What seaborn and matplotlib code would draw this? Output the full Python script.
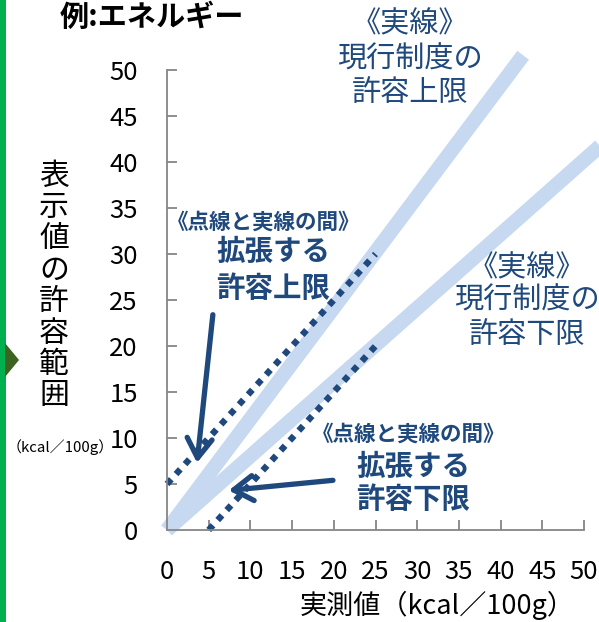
import matplotlib
matplotlib.use("Agg")
import matplotlib.pyplot as plt
import seaborn as sns
import pandas as pd
from matplotlib.patches import Rectangle, Polygon, FancyArrowPatch

# ---- data ----
upper_solid_x = [0, 42.7]
upper_solid_y = [0, 51.6]
lower_solid_x = [0, 53.0]
lower_solid_y = [0, 42.6]
upper_dot_x = [0, 25]
upper_dot_y = [5, 30]
lower_dot_x = [5, 25]
lower_dot_y = [0, 20]
arrow_upper = [(5.5, 23.4), (3.6, 7.3)]
arrow_lower = [(19.9, 5.4), (7.4, 4.3)]
x_ticks = [0, 5, 10, 15, 20, 25, 30, 35, 40, 45, 50]
y_ticks = [0, 5, 10, 15, 20, 25, 30, 35, 40, 45, 50]
title = "例:エネルギー"
ylabel_chars = list("表示値の許容範囲")
unit_label = "（kcal／100g）"
xlabel = "実測値（kcal／100g）"

sns.set_theme(style="white")
plt.rcParams["font.family"] = ["Noto Sans CJK JP", "DejaVu Sans"]

W, H = 599, 622
fig = plt.figure(figsize=(W / 100, H / 100), dpi=100)
fig.patch.set_facecolor("white")
ax = fig.add_axes([167 / W, 1 - 530 / H, (584 - 167) / W, (530 - 70) / H])
ax.set_facecolor("white")

def px(x, y):
    return x / W, 1 - y / H

light = "#C6D9F0"
dark = "#1F497D"

for xs, ys in [(upper_solid_x, upper_solid_y), (lower_solid_x, lower_solid_y)]:
    df = pd.DataFrame({"x": xs, "y": ys})
    sns.lineplot(data=df, x="x", y="y", ax=ax, color=light, linewidth=10.5,
                 solid_capstyle="butt", sort=False)
    ax.lines[-1].set_clip_on(False)

for xs, ys in [(upper_dot_x, upper_dot_y), (lower_dot_x, lower_dot_y)]:
    df = pd.DataFrame({"x": xs, "y": ys})
    sns.lineplot(data=df, x="x", y="y", ax=ax, color=dark, linewidth=4.6,
                 linestyle=(0, (1, 1.1)), sort=False)
    ax.lines[-1].set_clip_on(False)

for (start, tip) in [arrow_upper, arrow_lower]:
    arr = FancyArrowPatch(start, tip, arrowstyle="->,head_length=0.7,head_width=0.45",
                          mutation_scale=20, color=dark, linewidth=3.8,
                          shrinkA=0, shrinkB=0, clip_on=False)
    ax.add_patch(arr)

ax.set_xlim(0, 50)
ax.set_ylim(0, 50)
ax.set_xticks(x_ticks)
ax.set_yticks(y_ticks)
ax.set_xlabel("")
ax.set_ylabel("")
for s in ["top", "right"]:
    ax.spines[s].set_visible(False)
for s in ["left", "bottom"]:
    ax.spines[s].set_color("#868686")
    ax.spines[s].set_linewidth(1.3)
ax.tick_params(axis="both", direction="in", length=7, width=1.3, color="#868686",
               labelsize=18.5, labelcolor="black")
ax.tick_params(axis="y", pad=21, left=True)
ax.tick_params(axis="x", pad=21, bottom=True)

# title
fig.text(*px(60, 17), title, fontsize=21, fontweight="bold", ha="left", va="center",
         color="black")

# vertical y label
y0, step = 176, 31.4
for i, ch in enumerate(ylabel_chars):
    fig.text(*px(54, y0 + i * step), ch, fontsize=21.5, ha="center", va="center",
             color="black")
fig.text(*px(7, 447), unit_label, fontsize=10.8, ha="left", va="center", color="black")

# x label
fig.text(*px(437, 605), xlabel, fontsize=19.5, ha="center", va="center", color="black")

# annotations
def lines(cx, ys, texts, size, bold=False):
    for y, t in zip(ys, texts):
        fig.text(*px(cx, y), t, fontsize=size, ha="center", va="center", color=dark,
                 fontweight="bold" if bold else "normal")

lines(410, [24, 60, 93], ["《実線》", "現行制度の", "許容上限"], 21)
lines(527, [268, 301, 335], ["《実線》", "現行制度の", "許容下限"], 21)
lines(264, [222], ["《点線と実線の間》"], 15.5, bold=True)
lines(273, [252, 289], ["拡張する", "許容上限"], 20.5, bold=True)
lines(409, [434], ["《点線と実線の間》"], 15.5, bold=True)
lines(413, [467, 500], ["拡張する", "許容下限"], 20.5, bold=True)

# left decoration
fig.patches.append(Rectangle((0, 0), 6 / W, 1, transform=fig.transFigure,
                             facecolor="#00B050", edgecolor="none"))
fig.patches.append(Polygon([px(5, 343), px(19, 360), px(5, 377)], closed=True,
                           transform=fig.transFigure, facecolor="#3A6420",
                           edgecolor="none"))

fig.savefig("out.png", dpi=100, facecolor="white")
